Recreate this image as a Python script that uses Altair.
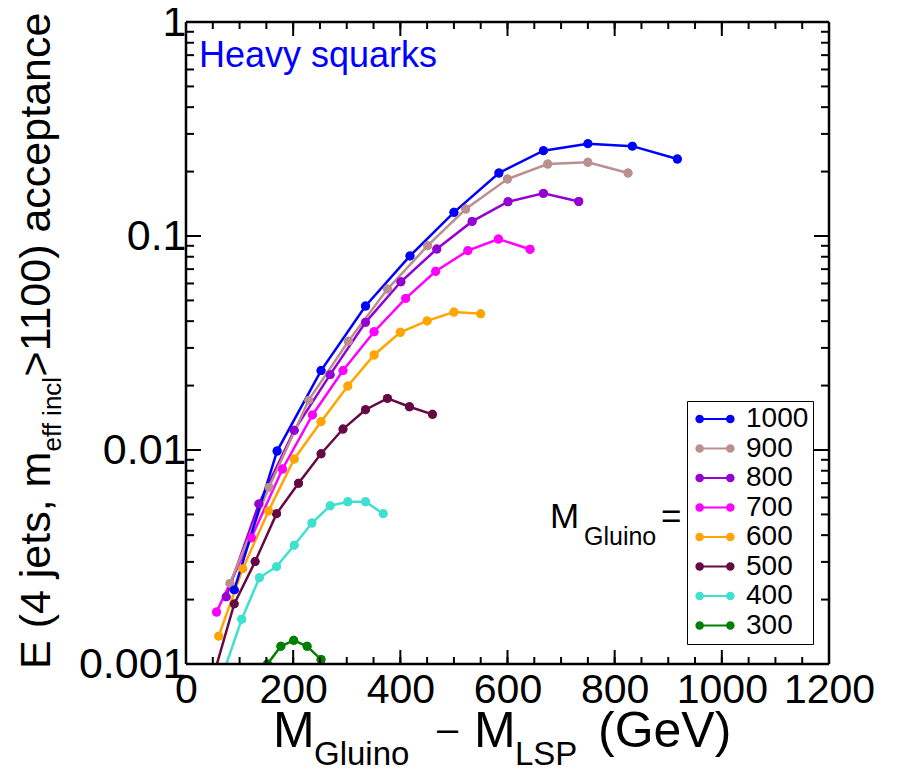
import altair as alt
import pandas as pd

FONT = "Liberation Sans"

# ---------------- data ----------------
gluino_masses = ["1000", "900", "800", "700", "600", "500", "400", "300"]
series_colors = ["#0000ff", "#bc8f8f", "#9400d3", "#ff00ff", "#ffa500", "#660a44", "#40e0d0", "#008000"]

dm_1000 = [90, 170, 252, 335, 418, 500, 584, 667, 750, 833, 917]
acc_1000 = [0.00222, 0.00989, 0.0235, 0.0471, 0.0807, 0.129, 0.197, 0.2505, 0.270, 0.263, 0.229]

dm_900 = [82, 155, 229, 303, 376, 451, 522, 600, 675, 750, 825]
acc_900 = [0.00238, 0.0067, 0.0171, 0.0322, 0.0565, 0.0901, 0.1337, 0.1846, 0.217, 0.221, 0.197]

dm_800 = [75, 136, 202, 269, 335, 401, 468, 534, 601, 667, 733]
acc_800 = [0.00206, 0.0056, 0.01236, 0.0225, 0.0395, 0.0611, 0.0869, 0.117, 0.1446, 0.1582, 0.145]

dm_700 = [57, 122, 180, 236, 293, 351, 410, 466, 526, 583, 642]
acc_700 = [0.00175, 0.00389, 0.00815, 0.01458, 0.0235, 0.0357, 0.0511, 0.0684, 0.0854, 0.0968, 0.0867]

dm_600 = [61, 106, 154, 202, 252, 302, 351, 400, 450, 500, 550]
acc_600 = [0.00135, 0.00279, 0.00519, 0.00908, 0.01356, 0.0199, 0.0278, 0.0355, 0.0401, 0.0441, 0.0433]

dm_500 = [49, 90, 129, 169, 210, 252, 293, 335, 376, 417, 460]
acc_500 = [0.00084, 0.00191, 0.00301, 0.00504, 0.00699, 0.0096, 0.01253, 0.01543, 0.01743, 0.01593, 0.01468]

dm_400 = [71, 104, 137, 169, 202, 235, 269, 302, 335, 368]
acc_400 = [0.00093, 0.00162, 0.00253, 0.00285, 0.00359, 0.00456, 0.00549, 0.00573, 0.00573, 0.00504]

dm_300 = [152, 177, 201, 226, 252, 277]
acc_300 = [0.001, 0.00121, 0.00129, 0.00121, 0.00105, 0.00085]

x_labels = [0, 200, 400, 600, 800, 1000, 1200]
x_minor = list(range(0, 1201, 50))
y_labels = [0.001, 0.01, 0.1, 1]
y_minor = [k * d for d in (0.001, 0.01, 0.1) for k in range(2, 10)]

series = {
    "1000": (dm_1000, acc_1000), "900": (dm_900, acc_900), "800": (dm_800, acc_800),
    "700": (dm_700, acc_700), "600": (dm_600, acc_600), "500": (dm_500, acc_500),
    "400": (dm_400, acc_400), "300": (dm_300, acc_300),
}
rows = []
for g in reversed(gluino_masses):
    for d, a in zip(*series[g]):
        rows.append({"gluino": g, "dm": d, "acc": a})
df = pd.DataFrame(rows)

# ---------------- layout ----------------
W, H = 643, 642
xs = alt.Scale(domain=[0, 1200], nice=False, zero=False)
ys = alt.Scale(type="log", domain=[0.001, 1], nice=False)
cs = alt.Scale(domain=gluino_masses, range=series_colors)

x_axis = alt.Axis(values=x_labels, format="d", title=None, grid=False, domain=False,
                  ticks=False, tickSize=0, labelFontSize=41, labelFont=FONT, labelColor="black",
                  labelPadding=6, labelFlush=False, labelOverlap=False)
y_axis = alt.Axis(values=y_labels, format="~g", title=None, grid=False, domain=False,
                  ticks=False, tickSize=0, labelFontSize=43, labelFont=FONT, labelColor="black",
                  labelPadding=0, labelFlush=False, labelOverlap=False)

# legend symbol: line with two dots (filled shapes)
SYM = ("M-1.46,-0.077H1.46V0.077H-1.46Z"
       "M-0.85,0A0.33,0.33 0 1 1 -1.51,0A0.33,0.33 0 1 1 -0.85,0Z"
       "M1.51,0A0.33,0.33 0 1 1 0.85,0A0.33,0.33 0 1 1 1.51,0Z")
legend = alt.Legend(title=None, orient="none", legendX=501, legendY=379,
                    symbolType=SYM, symbolSize=676, symbolStrokeWidth=0, symbolOpacity=1,
                    labelFontSize=28, labelFont=FONT, labelColor="black",
                    padding=4, symbolOffset=10, labelOffset=17, rowPadding=1.5,
                    strokeColor="black", fillColor="white")

X = alt.X("dm:Q", scale=xs, axis=x_axis)
Y = alt.Y("acc:Q", scale=ys, axis=y_axis)
C = alt.Color("gluino:N", scale=cs, legend=legend)

points_first = alt.Chart(df).mark_circle(size=80, opacity=1, clip=True).encode(x=X, y=Y, color=C)
lines = alt.Chart(df).mark_line(strokeWidth=2.5, clip=True).encode(
    x=X, y=Y, color=C, detail="gluino:N")
points = alt.Chart(df).mark_circle(size=80, opacity=1, clip=True).encode(x=X, y=Y, color=C)

def xticks(vals, y0, y1):
    return alt.Chart(pd.DataFrame({"v": vals})).mark_rule(color="black", strokeWidth=2).encode(
        x=alt.X("v:Q", scale=xs, axis=x_axis), y=alt.value(y0), y2=alt.value(y1))

def yticks(vals, x0, x1):
    return alt.Chart(pd.DataFrame({"v": vals})).mark_rule(color="black", strokeWidth=2).encode(
        y=alt.Y("v:Q", scale=ys, axis=y_axis), x=alt.value(x0), x2=alt.value(x1))

tick_layers = [
    xticks(x_minor, H, H - 7), xticks(x_labels, H, H - 14),
    xticks(x_minor, 0, 7), xticks(x_labels, 0, 14),
    yticks(y_minor, 0, 8), yticks(y_labels, 0, 15),
    yticks(y_minor, W, W - 8), yticks(y_labels, W, W - 15),
]

one = pd.DataFrame({"k": [0]})
def frame_rule(**enc):
    return alt.Chart(one).mark_rule(color="black", strokeWidth=2.5).encode(**enc)

frame = [
    frame_rule(x=alt.value(0), y=alt.value(0), y2=alt.value(H)),
    frame_rule(x=alt.value(W), y=alt.value(0), y2=alt.value(H)),
    frame_rule(y=alt.value(0), x=alt.value(0), x2=alt.value(W)),
    frame_rule(y=alt.value(H), x=alt.value(0), x2=alt.value(W)),
]

def txt(s, x, y, size, color="black", angle=0):
    return alt.Chart(pd.DataFrame({"t": [s]})).mark_text(
        align="left", baseline="alphabetic", fontSize=size, font=FONT, color=color, angle=angle
    ).encode(text="t:N", x=alt.value(x), y=alt.value(y))

# y-axis title with subscript (rotated), pieces placed using Arial advance widths
ADV = {'E': 667, ' ': 278, '(': 333, '4': 556, 'j': 222, 'e': 556, 't': 278, 's': 500, ',': 278,
       'm': 833, 'f': 278, 'i': 222, 'n': 556, 'c': 500, 'l': 222, '>': 584, '1': 556, '0': 556,
       ')': 333, 'a': 556, 'p': 556}
def adv(s, f):
    return sum(ADV.get(ch, 556) for ch in s) * f / 1000.0

yt1, yt2, yt3 = "E (4 jets, m", "eff incl", ">1100) acceptance"
F1, F2 = 43, 26
y0 = 647
ytitle = [
    txt(yt1, -136, y0, F1, angle=270),
    txt(yt2, -125, y0 - adv(yt1, F1), F2, angle=270),
    txt(yt3, -136, y0 - adv(yt1, F1) - adv(yt2, F2), F1, angle=270),
]

xtitle = [
    txt("M", 87, 725, 50),
    txt("Gluino", 128, 743, 33),
    txt("–", 251, 720, 38),
    txt("M", 288, 725, 50),
    txt("LSP", 329, 743, 33),
    txt("(GeV)", 412, 725, 50),
]

annot = [
    txt("Heavy squarks", 13, 45, 36, color="#0000ff"),
    txt("M", 364, 506, 35),
    txt("Gluino", 398, 523, 25),
    txt("=", 475, 506, 35),
]

chart = alt.layer(points_first, lines, points, *tick_layers, *frame, *ytitle, *xtitle, *annot).properties(
    width=W, height=H,
    autosize=alt.AutoSizeParams(type="none"),
    padding={"left": 178, "top": 14, "right": 62, "bottom": 103},
).configure_view(stroke="transparent").configure(font=FONT, background="white")

chart.save("out.html", embed_options={"renderer": "svg", "actions": False})
